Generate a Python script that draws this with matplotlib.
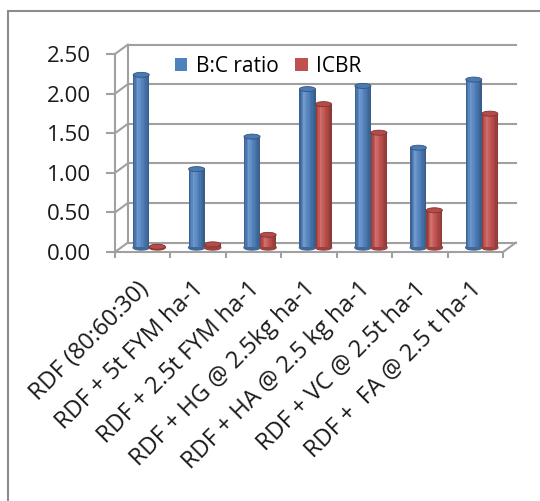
import numpy as np
import matplotlib.pyplot as plt
import matplotlib.transforms as mtransforms
from matplotlib.patches import Patch, Ellipse, Rectangle, ConnectionPatch

# data
categories = ['RDF (80:60:30)', 'RDF + 5t FYM ha-1', 'RDF + 2.5t FYM ha-1',
              'RDF + HG @ 2.5kg ha-1', 'RDF + HA @ 2.5 kg ha-1',
              'RDF + VC @ 2.5t ha-1', 'RDF +  FA @ 2.5 t ha-1']
bc_ratio = [2.18, 0.99, 1.40, 2.00, 2.04, 1.26, 2.12]
icbr = [0.01, 0.04, 0.16, 1.81, 1.45, 0.47, 1.69]
y_ticks = [0.0, 0.5, 1.0, 1.5, 2.0, 2.5]
series_names = ['B:C ratio', 'ICBR']

plt.rcParams['font.family'] = ['Open Sans', 'DejaVu Sans']

W, H = 540, 501
fig = plt.figure(figsize=(W / 100, H / 100), dpi=100)
ax = fig.add_axes([115 / W, 1 - 252 / H, (503 - 115) / W, (252 - 54) / H])
ax.set_xlim(0, len(categories))
ax.set_ylim(0, 2.5)

grid_col = '#a0a0a0'
blue = np.array([0x4f, 0x81, 0xbd]) / 255
red = np.array([0xc0, 0x50, 0x4d]) / 255

# pseudo-3D: back wall and bar plane are shifted in pixels
back = ax.transData + mtransforms.ScaledTranslation(0.13, 0.095, fig.dpi_scale_trans)
mid = ax.transData + mtransforms.ScaledTranslation(0.065, 0.045, fig.dpi_scale_trans)

n = len(categories)
for y in y_ticks:
    ax.plot([0, n], [y, y], transform=back, color=grid_col, lw=1.5, clip_on=False, zorder=1)
    cp = ConnectionPatch((0, y), (0, y), coordsA=ax.transData, coordsB=back,
                         color=grid_col, lw=1.5, zorder=1)
    ax.add_artist(cp)
ax.plot([0, 0], [0, 2.5], transform=back, color=grid_col, lw=1.5, clip_on=False, zorder=1)
ax.add_artist(ConnectionPatch((n, 0), (n, 0), coordsA=ax.transData, coordsB=back,
                              color=grid_col, lw=1.5, zorder=1))


def shade(c, k):
    if k >= 0:
        return c + (1 - c) * k
    return c * (1 + k)


def cylinder(xc, val, w, base):
    nstrip = 12
    edges = np.linspace(xc - w / 2, xc + w / 2, nstrip + 1)
    t = (np.arange(nstrip) + 0.5) / nstrip
    ks = np.interp(t, [0, 0.3, 1], [-0.3, 0.2, -0.3])
    ex_h = 5 / 79.2
    ax.add_patch(Ellipse((xc, 0), w, ex_h, transform=mid, color=shade(base, -0.2),
                         zorder=3, clip_on=False))
    for i in range(nstrip):
        ax.bar(edges[i], val, width=edges[i + 1] - edges[i], align='edge',
               color=shade(base, ks[i]), transform=mid, zorder=3, lw=0,
               clip_on=False)
    ax.add_patch(Ellipse((xc, val), w, ex_h, transform=mid,
                         facecolor=shade(base, -0.05), edgecolor=shade(base, -0.35),
                         lw=0.6, zorder=4, clip_on=False))


w = 0.29
centers = np.arange(n) + 0.5
for i in range(n):
    cylinder(centers[i] - w / 2, bc_ratio[i], w, blue)
    cylinder(centers[i] + w / 2, icbr[i], w, red)

# front axes
for s in ['top', 'right']:
    ax.spines[s].set_visible(False)
for s in ['left', 'bottom']:
    ax.spines[s].set_color(grid_col)
    ax.spines[s].set_linewidth(1.5)
    ax.spines[s].set_zorder(5)
ax.set_yticks(y_ticks)
ax.set_yticklabels(['%.2f' % v for v in y_ticks])
ax.set_xticks(np.arange(n + 1))
ax.set_xticklabels([])
ax.tick_params(axis='y', length=6.5, width=1.5, color=grid_col, pad=11, labelsize=16,
               labelcolor='#1a1a1a')
ax.tick_params(axis='x', length=4.5, width=1.5, color=grid_col)
ax.set_facecolor('none')

for i, lab in enumerate(categories):
    tr = ax.transData + mtransforms.ScaledTranslation(-0.06, -0.25, fig.dpi_scale_trans)
    ax.text(centers[i], 0, lab, transform=tr, rotation=45, ha='right', va='top',
            rotation_mode='anchor', fontsize=17, color='#1a1a1a')

handles = [Patch(facecolor=blue), Patch(facecolor=red)]
ax.legend(handles, series_names, ncol=2, frameon=False, loc='center',
          bbox_to_anchor=(268 / W, 1 - 66 / H), bbox_transform=fig.transFigure,
          handlelength=0.6, handleheight=0.6, handletextpad=0.4, columnspacing=0.8,
          fontsize=15)

fig.add_artist(Rectangle((8 / W, -0.1), 1.2, 1.1 - 11 / H, transform=fig.transFigure,
                         fill=False, edgecolor='#8c8c8c', lw=1.5))

fig.savefig('out.png', dpi=100)
